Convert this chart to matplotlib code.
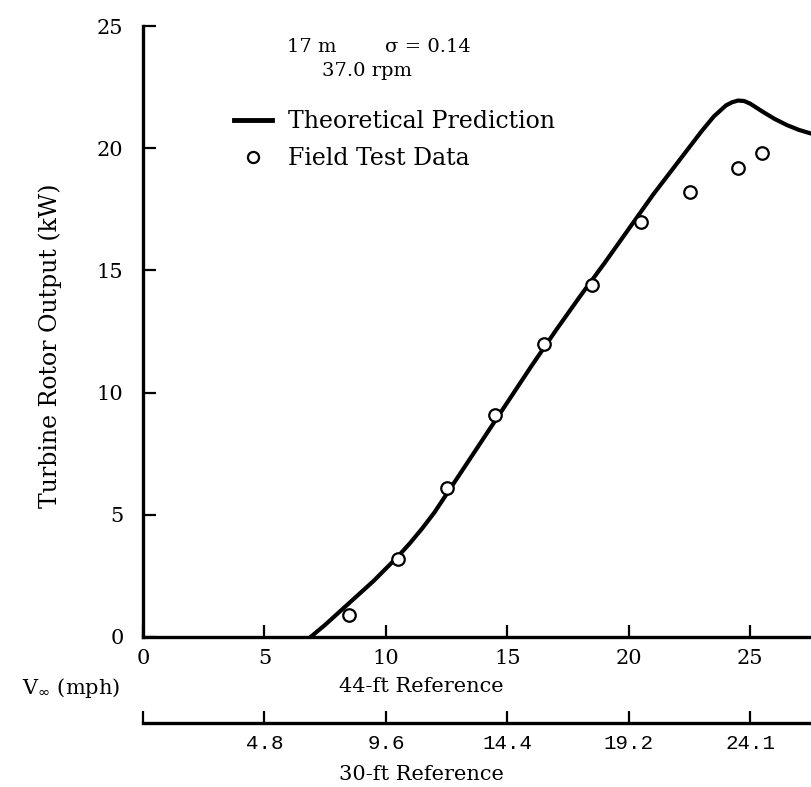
import matplotlib
matplotlib.use("Agg")
import matplotlib.pyplot as plt
from matplotlib.lines import Line2D

# ---- data ----
obs_v = [8.5, 10.5, 12.5, 14.5, 16.5, 18.5, 20.5, 22.5, 24.5, 25.5]
obs_kw = [0.9, 3.2, 6.1, 9.1, 12.0, 14.4, 17.0, 18.2, 19.2, 19.8]

theory_v = [6.9, 7.5, 8.0, 8.5, 9.0, 9.5, 10.0, 10.5, 11.0, 11.5, 12.0, 12.5,
            13.0, 14.0, 15.0, 16.0, 17.0, 18.0, 19.0, 20.0, 21.0, 22.0, 22.5,
            23.0, 23.5, 24.0, 24.25, 24.5, 24.75, 25.0, 25.5, 26.0, 26.5, 27.0,
            27.5]
theory_kw = [0.0, 0.5, 0.95, 1.4, 1.85, 2.3, 2.8, 3.3, 3.85, 4.45, 5.1, 5.85,
             6.6, 8.1, 9.6, 11.1, 12.55, 13.95, 15.3, 16.7, 18.1, 19.4, 20.05,
             20.7, 21.3, 21.75, 21.88, 21.95, 21.93, 21.82, 21.5, 21.2, 20.95,
             20.75, 20.6]

x_ticks = [0, 5, 10, 15, 20, 25]
x_ticklabels = ["0", "5", "10", "15", "20", "25"]
y_ticks = [0, 5, 10, 15, 20, 25]
ref30_ticks = [0, 5, 10, 15, 20, 25]
ref30_labels = ["", "4.8", "9.6", "14.4", "19.2", "24.1"]

W, H = 811, 787
plt.rcParams["font.family"] = ["DejaVu Serif"]
fig = plt.figure(figsize=(W / 100, H / 100), dpi=100)

def fx(px):
    return px / W

def fy(py):
    return 1 - py / H

x0, x1 = 143, 811
y0, y1 = 637, 26
ax = fig.add_axes([fx(x0), fy(y0), fx(x1) - fx(x0), fy(y1) - fy(y0)])
ax.set_xlim(0, 27.5)
ax.set_ylim(0, 25)
for s in ["top", "right"]:
    ax.spines[s].set_visible(False)
for s in ["left", "bottom"]:
    ax.spines[s].set_linewidth(2.4)
ax.set_xticks(x_ticks)
ax.set_xticklabels(x_ticklabels)
ax.set_yticks(y_ticks)
ax.tick_params(direction="in", length=9, width=1.6, labelsize=15, pad=9)
ax.tick_params(axis="y", pad=14)

ax.plot(theory_v, theory_kw, color="black", lw=3.0, solid_capstyle="round",
        solid_joinstyle="round", clip_on=False, label="Theoretical Prediction")
ax.plot(obs_v, obs_kw, linestyle="none", marker="o", ms=9, mfc="white",
        mec="black", mew=1.6, clip_on=False, label="Field Test Data")

ax.set_ylabel("Turbine Rotor Output (kW)", fontsize=17)
ax.yaxis.set_label_coords((62 - x0) / (x1 - x0), (y0 - 346) / (y0 - y1))

handles = [Line2D([], [], color="black", lw=3.5),
           Line2D([], [], linestyle="none", marker="o", ms=8, mfc="white",
                  mec="black", mew=1.6)]
fig.legend(handles, ["Theoretical Prediction", "Field Test Data"],
           loc="upper left", bbox_to_anchor=(fx(222), fy(98)), frameon=False,
           fontsize=17, handlelength=1.6, handletextpad=0.7, labelspacing=0.6,
           borderpad=0)

fig.text(fx(287), fy(47), "17 m", fontsize=14, va="center", ha="left")
fig.text(fx(385), fy(47), "σ = 0.14", fontsize=14, va="center", ha="left")
fig.text(fx(367), fy(71), "37.0 rpm", fontsize=14, va="center", ha="center")

fig.text(fx(22), fy(688), r"V$_\infty$ (mph)", fontsize=15, va="center", ha="left")
fig.text(fx(421), fy(686), "44-ft Reference", fontsize=15, va="center", ha="center")

# second (30-ft reference) axis
ax2 = fig.add_axes([fx(x0), fy(723), fx(x1) - fx(x0), 0.0001])
ax2.set_xlim(0, 27.5)
for s in ["top", "right", "left"]:
    ax2.spines[s].set_visible(False)
ax2.spines["bottom"].set_linewidth(2.4)
ax2.set_yticks([])
ax2.set_xticks(ref30_ticks)
ax2.set_xticklabels(ref30_labels, family=["Liberation Mono", "DejaVu Sans Mono"])
ax2.tick_params(axis="x", direction="in", length=9, width=1.6, labelsize=15, pad=8)

fig.text(fx(421), fy(775), "30-ft Reference", fontsize=15, va="center", ha="center")

fig.savefig("out.png", dpi=100)
